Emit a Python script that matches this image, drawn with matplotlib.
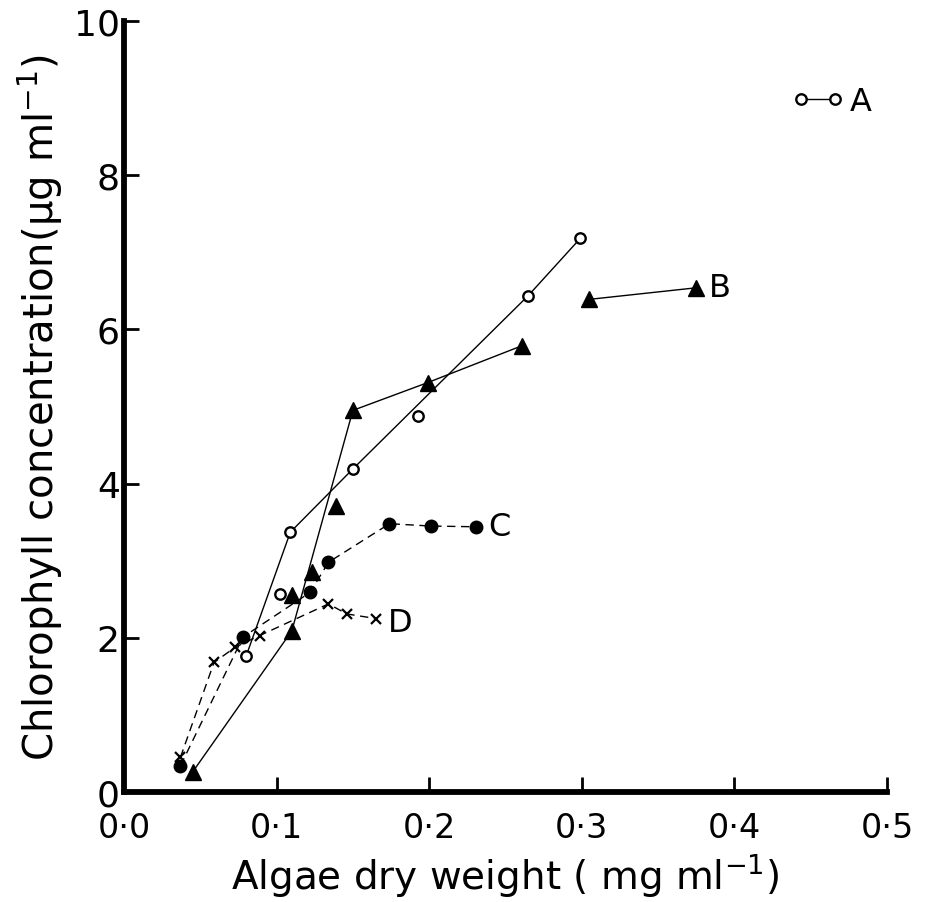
import matplotlib
matplotlib.use("Agg")
import matplotlib.pyplot as plt
from matplotlib.legend_handler import HandlerLine2D

plt.rcParams['font.family'] = ['DejaVu Sans']
plt.rcParams['mathtext.fontset'] = 'dejavusans'

# series A (open circles, solid line)
a_x = [0.080, 0.109, 0.150, 0.265, 0.299]
a_y = [1.76, 3.37, 4.19, 6.44, 7.18]
a_extra_x = [0.102, 0.193]
a_extra_y = [2.57, 4.88]

# series B (filled triangles, solid line)
b_x = [0.045, 0.110, 0.150, 0.199, 0.261]
b_y = [0.26, 2.09, 4.95, 5.31, 5.79]
b_extra_x = [0.110, 0.123, 0.139]
b_extra_y = [2.55, 2.85, 3.71]
b_end_x = [0.305, 0.375]
b_end_y = [6.39, 6.54]

# series C (filled circles, dashed)
c_x = [0.037, 0.078, 0.122, 0.134, 0.174, 0.201, 0.231]
c_y = [0.34, 2.01, 2.59, 2.98, 3.48, 3.45, 3.44]

# series D (crosses, dashed)
d_x = [0.037, 0.059, 0.073, 0.089, 0.134, 0.146, 0.165]
d_y = [0.45, 1.68, 1.88, 2.03, 2.44, 2.31, 2.25]

x_ticks = [0.0, 0.1, 0.2, 0.3, 0.4, 0.5]
x_ticklabels = ['0\u00b70', '0\u00b71', '0\u00b72', '0\u00b73', '0\u00b74', '0\u00b75']
y_ticks = [0, 2, 4, 6, 8, 10]

fig = plt.figure(figsize=(9.35, 9.03), dpi=100)
ax = fig.add_axes([0.1326, 0.1218, 0.816, 0.8538])

lw = 1.0
dash = (6, 4)

ax.plot(a_x, a_y, '-', color='black', lw=lw, marker='o', ms=7.5,
        mfc='white', mec='black', mew=1.7, label='A')
ax.plot(a_extra_x, a_extra_y, 'o', ms=7.5, mfc='white', mec='black', mew=1.7)

ax.plot(b_x, b_y, '-', color='black', lw=lw, marker='^', ms=11, mfc='black', mec='black')
ax.plot(b_extra_x, b_extra_y, '^', ms=11, color='black')
ax.plot(b_end_x, b_end_y, '-', color='black', lw=lw, marker='^', ms=11)

ax.plot(c_x, c_y, color='black', lw=lw, dashes=dash, marker='o', ms=9)
ax.plot(d_x, d_y, color='black', lw=lw, dashes=dash, marker='x', ms=7, mew=1.6)

label_size = 23
ax.text(b_end_x[-1] + 0.008, b_end_y[-1], 'B', fontsize=label_size, va='center', ha='left')
ax.text(c_x[-1] + 0.008, c_y[-1], 'C', fontsize=label_size, va='center', ha='left')
ax.text(d_x[-1] + 0.008, d_y[-1] - 0.05, 'D', fontsize=label_size, va='center', ha='left')

ax.legend(loc='center left', bbox_to_anchor=(0.888, 0.895), frameon=False,
          numpoints=2, handlelength=1.05, handletextpad=0.45, borderpad=0,
          borderaxespad=0, fontsize=label_size,
          handler_map={plt.Line2D: HandlerLine2D(marker_pad=0)})

ax.set_xlim(0, 0.5)
ax.set_ylim(0, 10)
ax.set_xticks(x_ticks)
ax.set_xticklabels(x_ticklabels)
ax.set_yticks(y_ticks)

for side in ['top', 'right']:
    ax.spines[side].set_visible(False)
for side in ['left', 'bottom']:
    ax.spines[side].set_linewidth(4.2)
ax.tick_params(direction='in', length=11, width=2.0)
ax.tick_params(axis='x', pad=14, labelsize=24)
ax.tick_params(axis='y', pad=3, labelsize=26)

ax.set_xlabel('Algae dry weight ( mg ml$^{-1}$)', fontsize=28, labelpad=5)
ax.set_ylabel('Chlorophyll concentration(\u03bcg ml$^{-1}$)', fontsize=29, labelpad=6)

fig.savefig('out.png', dpi=100)
